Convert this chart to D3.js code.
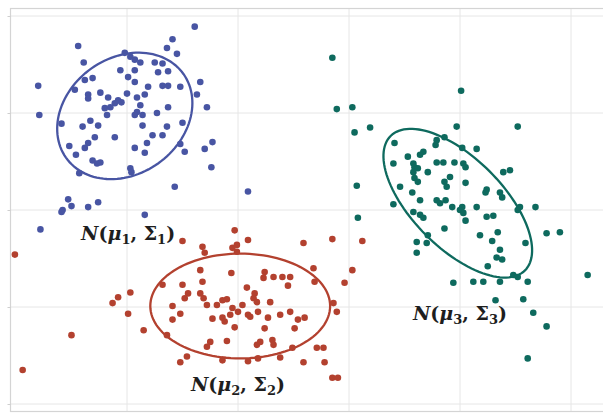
<!DOCTYPE html>
<html><head><meta charset="utf-8">
<script src="https://cdn.jsdelivr.net/npm/d3@7"></script>
<style>html,body{margin:0;padding:0;background:#fff;}svg{display:block;}</style>
</head><body>
<svg id="chart" width="603" height="415"></svg>
<script>
// ---- data (arbitrary units; gridlines at integer values) ----
const cluster1 = [[1.61,3.89],[1.41,3.76],[1.36,3.67],[1.45,3.61],[0.56,3.69],[0.61,3.52],[0.20,3.28],[0.21,2.98],[0.98,3.62],[1.03,3.58],[1.07,3.55],[1.12,3.52],[1.25,3.52],[1.32,3.51],[1.37,3.43],[1.28,3.42],[0.94,3.44],[1.07,3.44],[1.01,3.37],[0.62,3.34],[0.69,3.36],[1.07,3.32],[1.19,3.27],[1.32,3.28],[1.37,3.28],[1.48,3.27],[1.66,3.32],[1.63,3.19],[0.53,3.24],[0.65,3.19],[0.65,3.15],[0.76,3.21],[0.83,3.16],[1.00,3.20],[1.09,3.16],[1.16,3.19],[0.92,3.13],[0.89,3.10],[0.95,3.11],[0.85,3.06],[0.80,3.05],[0.82,2.98],[1.12,3.08],[1.09,3.01],[1.14,2.98],[1.07,2.98],[1.37,3.06],[1.27,3.00],[1.72,3.06],[0.41,2.89],[0.60,2.86],[0.67,2.92],[0.74,2.87],[1.14,2.87],[1.36,2.86],[1.32,2.77],[1.50,2.90],[0.71,2.75],[0.89,2.75],[1.23,2.77],[1.18,2.69],[1.16,2.59],[1.07,2.64],[0.48,2.66],[0.54,2.57],[0.65,2.69],[0.62,2.64],[1.48,2.68],[1.52,2.60],[1.77,2.70],[1.70,2.63],[0.69,2.51],[0.73,2.48],[0.76,2.49],[1.76,2.44],[0.57,2.38],[1.03,2.43],[1.04,2.39],[1.43,2.24],[2.09,2.19],[0.47,2.11],[0.42,2.00],[0.50,2.04],[0.65,2.03],[0.74,2.08],[0.22,1.80],[1.16,1.95],[0.41,1.98]];
const cluster2 = [[-0.01,1.54],[1.50,1.68],[0.06,0.35],[0.50,0.71],[0.87,1.04],[0.92,1.10],[1.03,1.15],[1.01,0.93],[1.15,0.76],[1.32,1.23],[1.50,1.23],[1.52,1.09],[1.55,1.14],[1.41,1.01],[1.48,0.93],[1.41,0.87],[1.36,0.71],[1.54,0.49],[1.48,0.43],[1.97,1.79],[2.09,1.69],[1.95,1.61],[1.99,1.64],[1.99,1.57],[1.68,1.62],[1.70,1.56],[1.66,1.38],[1.94,1.35],[2.24,1.36],[2.23,1.30],[2.32,1.31],[2.40,1.31],[2.47,1.31],[2.45,1.22],[1.68,1.26],[1.66,1.14],[1.69,1.09],[1.72,1.02],[2.08,1.20],[2.15,1.14],[2.14,1.09],[2.17,1.05],[2.29,1.05],[2.47,0.95],[1.90,1.08],[1.81,1.02],[1.95,0.99],[2.00,0.95],[1.77,0.88],[1.86,0.89],[1.88,0.85],[1.93,0.92],[1.97,0.79],[2.09,0.92],[2.18,0.95],[2.27,0.89],[2.38,0.92],[1.75,0.64],[1.72,0.59],[1.90,0.65],[2.24,0.78],[2.17,0.61],[2.20,0.64],[2.31,0.66],[2.32,0.61],[2.51,0.78],[2.49,0.58],[1.86,0.45],[2.09,0.44],[2.18,0.47],[2.38,0.48],[2.59,1.66],[2.85,1.70],[3.12,1.68],[3.03,1.38],[2.96,1.25],[2.68,1.40],[2.69,1.26],[2.86,1.04],[2.89,0.95],[2.60,0.89],[2.54,0.87],[2.77,0.58],[2.71,0.58],[2.78,0.43],[2.59,0.43],[2.85,0.27],[2.90,0.27],[2.04,1.02],[1.86,1.07],[2.11,0.90]];
const cluster3 = [[2.85,3.57],[2.89,3.04],[3.03,3.06],[4.01,3.23],[3.05,2.80],[3.19,2.85],[3.97,2.86],[4.52,2.86],[3.41,2.69],[3.79,2.72],[3.78,2.67],[3.86,2.75],[4.02,2.64],[4.15,2.63],[3.67,2.60],[3.64,2.57],[3.53,2.55],[3.40,2.48],[3.58,2.48],[3.59,2.44],[3.62,2.43],[3.58,2.39],[3.79,2.49],[3.85,2.49],[3.95,2.49],[4.03,2.48],[4.05,2.44],[3.71,2.39],[3.91,2.34],[3.86,2.29],[3.88,2.24],[3.59,2.33],[3.62,2.29],[4.05,2.28],[3.07,2.25],[3.46,2.24],[3.57,2.18],[3.64,2.10],[3.79,2.10],[3.82,2.07],[3.87,2.10],[4.02,2.03],[4.24,2.21],[4.23,2.18],[4.39,2.39],[4.45,2.41],[4.36,2.18],[4.38,2.13],[4.54,2.03],[4.68,2.03],[3.40,2.06],[3.08,1.92],[3.93,2.03],[4.00,2.00],[4.03,1.97],[3.58,1.98],[3.64,1.95],[3.67,1.92],[4.05,1.89],[4.15,2.03],[4.24,1.93],[4.30,1.94],[4.52,2.00],[3.86,1.81],[3.71,1.74],[3.61,1.67],[3.70,1.66],[3.61,1.56],[4.18,1.74],[4.29,1.68],[4.34,1.77],[4.36,1.59],[4.33,1.51],[4.38,1.49],[4.25,1.42],[4.59,1.66],[4.78,1.76],[4.90,1.77],[5.15,1.33],[4.48,1.33],[4.52,1.31],[3.94,1.25],[4.12,1.26],[4.21,1.26],[4.36,1.26],[4.61,1.26],[4.32,1.07],[4.57,1.08],[4.66,0.94],[4.78,0.80],[4.61,0.47]];
// ellipse: centre, semi-major axis vector, semi-minor axis vector (data units)
const ellipseCenters = [[0.98,2.97],[2.02,1.01],[3.98,2.07]];
const ellipseMajor   = [[0.53,0.43],[0.81,0],[0.605,-0.693]];
const ellipseMinor   = [[0.30,-0.49],[0,0.54],[0.287,0.328]];
const labelPos = [[1.01,1.74],[2.00,0.19],[4.00,0.92]];
const labelIdx = ["1","2","3"];
const xTicks = [1,2,3,4,5];
const yTicks = [0,1,2,3,4];

const colors = ["#4855a3","#b3412f","#0e6a5e"];

const svg = d3.select("#chart");
const x = d3.scaleLinear().domain([0,5]).range([16,571]);
const y = d3.scaleLinear().domain([0,4]).range([404,16]);

// frame + grid
const g = svg.append("g");
g.selectAll(".vg").data(xTicks).join("line")
  .attr("x1",d=>x(d)).attr("x2",d=>x(d)).attr("y1",8).attr("y2",412)
  .attr("stroke","#e6e6e6").attr("stroke-width",1);
g.selectAll(".hg").data(yTicks).join("line")
  .attr("x1",10).attr("x2",603).attr("y1",d=>y(d)).attr("y2",d=>y(d))
  .attr("stroke","#e6e6e6").attr("stroke-width",1);
g.append("rect").attr("x",10.5).attr("y",8.5).attr("width",620).attr("height",403)
  .attr("fill","none").attr("stroke","#d4d4d4").attr("stroke-width",1.2);
const ax = svg.append("g").attr("transform","translate(10.5,0)")
  .call(d3.axisLeft(y).tickValues(yTicks).tickSize(3).tickFormat(""));
ax.select(".domain").remove();
ax.selectAll("line").attr("stroke","#cfcfcf");

// ellipses
const ts = d3.range(0,361,3).map(a=>a*Math.PI/180);
ellipseCenters.forEach((c,i)=>{
  const M = ellipseMajor[i], N = ellipseMinor[i];
  const pts = ts.map(t=>[c[0]+M[0]*Math.cos(t)+N[0]*Math.sin(t), c[1]+M[1]*Math.cos(t)+N[1]*Math.sin(t)]);
  svg.append("path").datum(pts)
    .attr("d", d3.line().x(d=>x(d[0])).y(d=>y(d[1])).curve(d3.curveLinearClosed))
    .attr("fill","none").attr("stroke",colors[i]).attr("stroke-width",2.3);
});

// points
[cluster1,cluster2,cluster3].forEach((pts,i)=>{
  svg.append("g").selectAll("circle").data(pts).join("circle")
    .attr("cx",d=>x(d[0])).attr("cy",d=>y(d[1])).attr("r",3.3)
    .attr("fill",colors[i]);
});

// labels
labelPos.forEach((p,i)=>{
  const t = svg.append("text").attr("x",x(p[0])).attr("y",y(p[1])+5)
    .attr("text-anchor","middle")
    .attr("font-family","'DejaVu Serif','Liberation Serif',serif")
    .attr("font-size",19).attr("font-weight","bold").attr("fill","#1e1e1e");
  t.append("tspan").attr("font-style","italic").text("N");
  t.append("tspan").text("(");
  t.append("tspan").attr("font-style","italic").text("μ");
  t.append("tspan").attr("font-size",13).attr("dy",4).text(labelIdx[i]);
  t.append("tspan").attr("dy",-4).text(", Σ");
  t.append("tspan").attr("font-size",13).attr("dy",4).text(labelIdx[i]);
  t.append("tspan").attr("dy",-4).text(")");
});
</script>
</body></html>
